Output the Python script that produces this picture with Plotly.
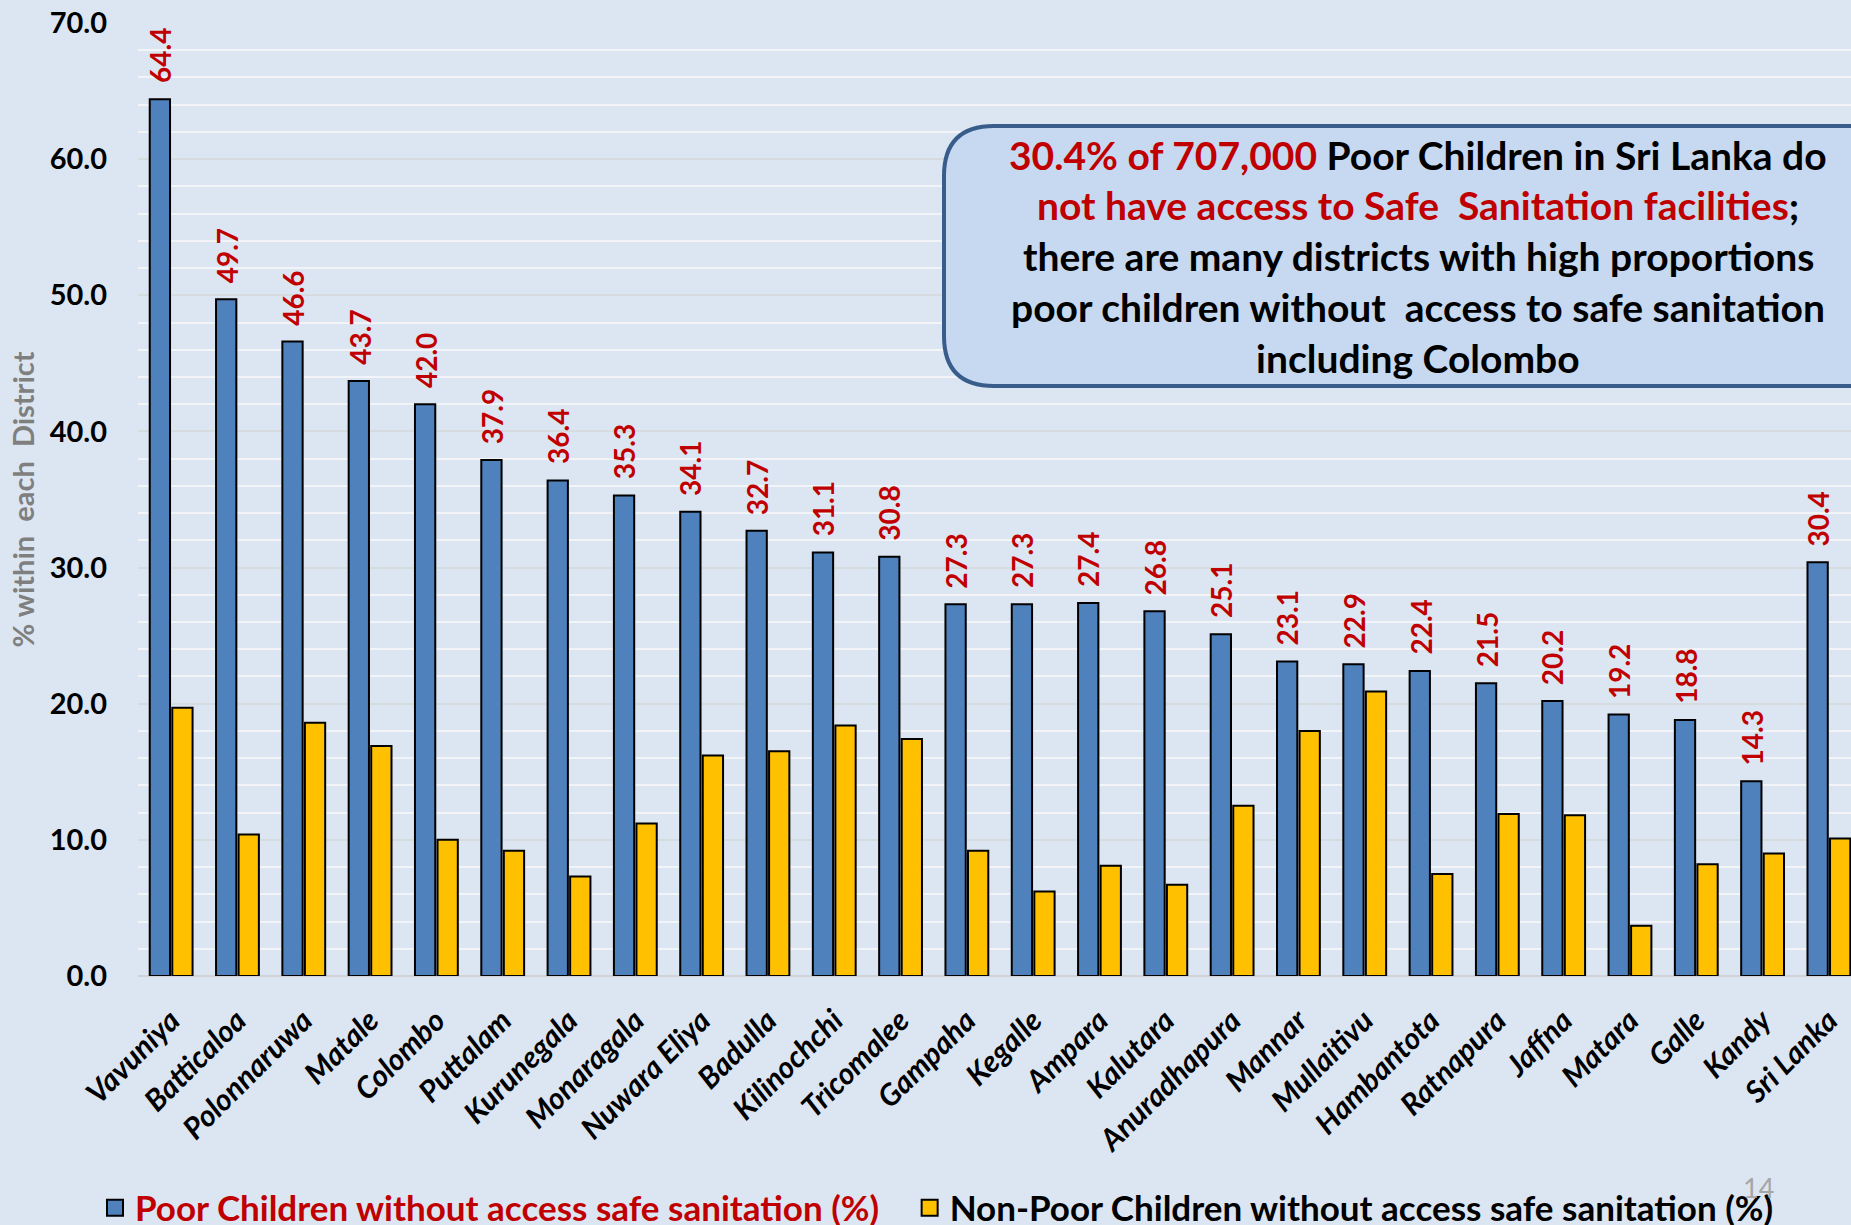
import plotly.graph_objects as go

districts = ["Vavuniya", "Batticaloa", "Polonnaruwa", "Matale", "Colombo", "Puttalam",
             "Kurunegala", "Monaragala", "Nuwara Eliya", "Badulla", "Kilinochchi",
             "Tricomalee", "Gampaha", "Kegalle", "Ampara", "Kalutara", "Anuradhapura",
             "Mannar", "Mullaitivu", "Hambantota", "Ratnapura", "Jaffna", "Matara",
             "Galle", "Kandy", "Sri Lanka"]
poor = [64.4, 49.7, 46.6, 43.7, 42.0, 37.9, 36.4, 35.3, 34.1, 32.7, 31.1, 30.8, 27.3,
        27.3, 27.4, 26.8, 25.1, 23.1, 22.9, 22.4, 21.5, 20.2, 19.2, 18.8, 14.3, 30.4]
non_poor = [19.7, 10.4, 18.6, 16.9, 10.0, 9.2, 7.3, 11.2, 16.2, 16.5, 18.4, 17.4, 9.2,
            6.2, 8.1, 6.7, 12.5, 18.0, 20.9, 7.5, 11.9, 11.8, 3.7, 8.2, 9.0, 10.1]
y_ticks = [0, 10, 20, 30, 40, 50, 60, 70]
y_tick_labels = ["0.0", "10.0", "20.0", "30.0", "40.0", "50.0", "60.0", "70.0"]
series_names = ["Poor Children without access safe sanitation (%)",
                "Non-Poor Children without access safe sanitation (%)"]

W, H = 1851, 1225
ML, MR, MT, MB = 138, 0, 23, 249
PW, PH = W - ML - MR, H - MT - MB
FONT = "Lato, Carlito, 'Open Sans', sans-serif"
RED = "#C00000"
BG = "#DCE6F2"
BLUE = "#4F81BD"
YELLOW = "#FFC000"


def px_x(x):
    return (x - ML) / PW


def px_y(y):
    return (H - MB - y) / PH


fig = go.Figure()
fig.add_trace(go.Bar(
    x=districts, y=poor, name=series_names[0], legendgroup="poor", showlegend=False,
    marker=dict(color=BLUE, line=dict(color="black", width=2)),
))
fig.add_trace(go.Bar(
    x=districts, y=non_poor, name=series_names[1], legendgroup="nonpoor", showlegend=False,
    marker=dict(color=YELLOW, line=dict(color="black", width=2)),
))
# legend entries (square swatches)
fig.add_trace(go.Scatter(
    x=[None], y=[None], mode="markers", legendgroup="poor",
    name=f"<span style='color:{RED}'>{series_names[0]}</span>&nbsp;&nbsp;&nbsp;",
    marker=dict(symbol="square", size=16, color=BLUE, line=dict(color="black", width=2)),
))
fig.add_trace(go.Scatter(
    x=[None], y=[None], mode="markers", legendgroup="nonpoor",
    name=series_names[1],
    marker=dict(symbol="square", size=16, color=YELLOW, line=dict(color="black", width=2)),
))

# data labels above the blue bars
for d, v in zip(districts, poor):
    fig.add_annotation(
        x=d, y=v, xref="x", yref="y", text=f"{v:.1f}", showarrow=False,
        textangle=-90, xanchor="center", yanchor="bottom", xshift=-11, yshift=14,
        font=dict(family=FONT, size=28, color=RED, weight="bold"),
    )

# rounded call-out box
L_, T_, B_, R_, r = 944, 126, 386, 1920, 50
path = (f"M {px_x(L_ + r)},{px_y(T_)} L {px_x(R_)},{px_y(T_)} L {px_x(R_)},{px_y(B_)} "
        f"L {px_x(L_ + r)},{px_y(B_)} Q {px_x(L_)},{px_y(B_)} {px_x(L_)},{px_y(B_ - r)} "
        f"L {px_x(L_)},{px_y(T_ + r)} Q {px_x(L_)},{px_y(T_)} {px_x(L_ + r)},{px_y(T_)} Z")
fig.add_shape(type="path", path=path, xref="paper", yref="paper",
              fillcolor="#C6D9F1", line=dict(color="#385D8A", width=4), layer="above")

box_lines = [
    f"<span style='color:{RED}'>30.4% of 707,000</span> Poor Children in Sri Lanka do",
    f"<span style='color:{RED}'>not have access to Safe  Sanitation facilities</span>;",
    "there are many districts with high proportions",
    "poor children without  access to safe sanitation",
    "including Colombo",
]
line_y = [155, 205, 256, 307, 358]
for t, yy in zip(box_lines, line_y):
    fig.add_annotation(
        x=px_x(1418), y=px_y(yy), xref="paper", yref="paper", text=t, showarrow=False,
        xanchor="center", yanchor="middle",
        font=dict(family=FONT, size=39, color="black", weight="bold"),
    )

# page number
fig.add_annotation(x=px_x(1758), y=px_y(1187), xref="paper", yref="paper", text="14",
                   showarrow=False, xanchor="center", yanchor="middle",
                   font=dict(family=FONT, size=27, color="#A6A6A6"))

fig.update_layout(
    width=W, height=H,
    margin=dict(l=ML, r=MR, t=MT, b=MB, pad=0),
    paper_bgcolor=BG, plot_bgcolor=BG,
    barmode="group", bargap=0.32, bargroupgap=0.1,
    showlegend=True,
    legend=dict(orientation="h", xref="container", yref="container",
                x=95 / W, y=1 - 1208 / H, xanchor="left", yanchor="middle",
                bgcolor="rgba(0,0,0,0)",
                font=dict(family=FONT, size=35, color="black", weight="bold"),
                traceorder="normal"),
    font=dict(family=FONT),
)
fig.update_xaxes(
    type="category", range=[-0.5, -0.5 + PW / 66.31],
    tickangle=-45, ticks="outside", ticklen=0, tickcolor="rgba(0,0,0,0)",
    ticklabelstandoff=14,
    tickfont=dict(family=FONT, size=30, color="black", weight="bold", style="italic"),
    showgrid=False, showline=False, zeroline=False,
)
fig.update_yaxes(
    range=[0, 70], tickmode="array", tickvals=y_ticks, ticktext=y_tick_labels,
    ticks="", ticklabelstandoff=30,
    tickfont=dict(family=FONT, size=29, color="black", weight="bold"),
    showgrid=True, gridcolor="#D6DBE0", gridwidth=2,
    minor=dict(dtick=2, showgrid=True, gridcolor="#F2F4F7", gridwidth=2),
    zeroline=True, zerolinecolor="#D0D4D8", zerolinewidth=2,
    title=dict(text="% within  each  District", standoff=6,
               font=dict(family=FONT, size=29, color="#7F7F7F", weight="bold")),
)

fig.write_html("out.html", config={"displayModeBar": False},
               post_script="document.body.style.margin='0';"
                           "document.documentElement.style.overflow='hidden';")
